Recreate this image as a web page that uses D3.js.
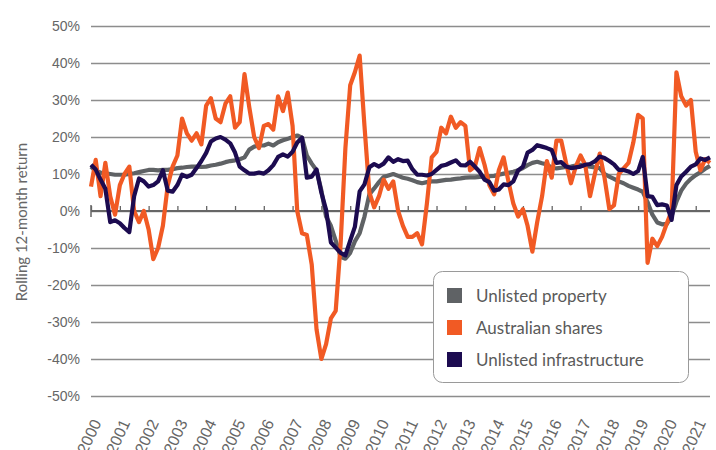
<!DOCTYPE html>
<html>
<head>
<meta charset="utf-8">
<script src="https://cdnjs.cloudflare.com/ajax/libs/d3/7.8.5/d3.min.js"></script>
<style>
  body { margin: 0; background: #fff; }
  svg { font-family: Lato, "Open Sans", sans-serif; }
</style>
</head>
<body>
<script>
//rolling 12-month returns, one value every two months from Jan 2000
var seriesNames = ["Unlisted property", "Australian shares", "Unlisted infrastructure"];
var seriesColors = ["#5f6265", "#f15a24", "#1c0b50"];

var property = [12, 10.8, 10.4, 10.2, 10, 9.8, 9.8, 9.8, 10, 10.2, 10.5, 10.8,
  11.1, 11.1, 11, 11.1, 11.1, 11.3, 11.6, 11.7, 11.9, 12, 12, 11.9,
  12, 12.3, 12.5, 12.8, 13.2, 13.5, 13.7, 14, 14.5, 16.6, 17.4, 17.7,
  17.7, 18.2, 17.7, 18.6, 19.1, 19.5, 20, 20.4, 19.8, 15, 12.8, 11,
  5.6, -1.5, -4, -8, -12.4, -12.9, -11.3, -8.2, -6, -1.5, 4.5, 6.1,
  7.8, 9.2, 9.6, 10, 9.5, 9, 8.7, 8.3, 7.8, 7.5, 7.8, 8,
  8, 8.2, 8.4, 8.5, 8.7, 8.8, 9, 9.1, 9.1, 9.2, 9.3, 9.4,
  9.5, 9.8, 10.1, 10.3, 10.6, 11, 11.6, 12.4, 13, 13.3, 12.9, 12.6,
  11.7, 11.5, 11.7, 11.9, 12, 12.3, 12.5, 12.2, 12, 11.8, 11.6, 10,
  9.3, 8.7, 8, 7.5, 6.8, 6.3, 5.8, 5.2, 2.4, -1, -3.1, -3.6,
  -3.5, -1.4, 2.5, 5.5, 7.4, 8.7, 9.7, 10.5, 11.4, 12.2];

var shares = [6.6, 13.8, 4, 13, 4, -1, 7, 10, 12, 0, -3, 0,
  -5, -13, -10, -4, 7, 12, 15, 25, 21, 19, 21, 18,
  28.5, 30.5, 25, 24, 29, 31, 22.5, 24, 37, 28, 20, 17,
  23, 23.5, 22, 31, 27, 32, 23, 0, -6, -6.5, -14.5, -32,
  -40, -36, -29, -27, -9, 17, 34, 37.5, 42, 23, 5, 1,
  4, 8.5, 6, 8, 0, -4, -7, -7, -6, -9, 2, 14.5,
  16, 22.5, 21, 25.5, 22.5, 24, 23, 11, 12, 17, 12.5, 7,
  4.5, 11, 14.5, 8, 2, -1.5, 0.5, -4, -11, -3, 4, 13.5,
  9, 19, 19, 13, 7.5, 12, 15, 12.5, 4, 10, 15.5, 9,
  0.5, 1.5, 10, 11.5, 13, 18.5, 26, 25, -14, -7.5, -9.5, -7,
  -3.3, 0, 37.5, 31, 28.5, 30, 16, 11, 14, 13];

var infrastructure = [12.5, 11.2, 8.5, 6, -3, -2.5, -3.3, -4.6, -5.7, 4, 8.8, 8,
  6.6, 7, 8, 11, 5.5, 5.2, 7, 9.8, 9.2, 9.8, 11.6, 13.5,
  15.7, 18.8, 19.6, 20, 19.3, 18.3, 15.8, 12, 11, 10.1, 10.1, 10.4,
  10.1, 11, 12.4, 14.6, 15.3, 14.7, 16, 18.5, 19.8, 9, 9.3, 11.2,
  5, 0.3, -8.5, -9.9, -11.3, -12, -8, -4.3, 5.3, 7.2, 11.8, 12.7,
  12, 12.8, 14.5, 13.3, 14, 13.5, 13.6, 11.3, 9.8, 9.8, 9.6, 10,
  11.1, 12.2, 12.5, 13.1, 13.7, 12.4, 12.3, 13.3, 12, 10.6, 8.5, 7.8,
  5.5, 5.8, 7.2, 7, 8, 11, 12, 15.8, 16.5, 17.8, 17.4, 17,
  16.5, 13, 13.2, 12, 11.6, 11.8, 12, 12.5, 12.7, 13.4, 14.7, 14.3,
  13.5, 12.6, 11.1, 11.1, 10.7, 10, 10.8, 14.6, 4, 3.8, 1.6, 1.8,
  1.5, -2.4, 7, 9.3, 10.6, 12, 12.6, 14.2, 13.8, 14.5];

var yearLabels = ["2000", "2001", "2002", "2003", "2004", "2005", "2006", "2007",
  "2008", "2009", "2010", "2011", "2012", "2013", "2014", "2015", "2016", "2017",
  "2018", "2019", "2020", "2021"];
var yTicks = [-50, -40, -30, -20, -10, 0, 10, 20, 30, 40, 50];

window.onload = drawChart;

function drawChart(){

  var width = 716, height = 450;
  var left = 91, right = 710, top = 26, bottom = 396;

  var svg = d3.select("body")
              .append("svg")
              .attr("width", width)
              .attr("height", height);

  //one date per reading, two months apart
  var dates = property.map(function(d, i){ return new Date(2000, i * 2, 1); });

  var x = d3.scaleTime()
    .domain([new Date(2000, 0, 1), new Date(2021, 6, 1)])
    .range([left, right]);

  var y = d3.scaleLinear()
    .domain([-50, 50])
    .range([bottom, top]);

  //gridlines and y labels
  var yAxis = svg.append("g")
    .attr("transform", "translate(" + left + ",0)")
    .call(d3.axisLeft(y)
      .tickValues(yTicks)
      .tickSize(-(right - left))
      .tickPadding(11)
      .tickFormat(function(d){ return d + "%"; }));
  yAxis.select(".domain").remove();
  yAxis.selectAll("line")
    .attr("stroke", "#8d8d8d")
    .attr("stroke-width", 1.3);
  yAxis.selectAll("text")
    .attr("fill", "#666")
    .style("font-size", "14px");

  //zero line with year ticks
  var yearDates = yearLabels.map(function(d){ return new Date(+d, 0, 1); });
  var zeroAxis = svg.append("g")
    .attr("transform", "translate(0," + y(0) + ")")
    .call(d3.axisTop(x)
      .tickValues(yearDates)
      .tickSize(5)
      .tickFormat(""));
  zeroAxis.select(".domain")
    .attr("d", "M" + left + ",0H" + right)
    .attr("stroke", "#666")
    .attr("stroke-width", 2);
  zeroAxis.selectAll("line")
    .attr("stroke", "#666")
    .attr("stroke-width", 1.3);
  zeroAxis.append("line")
    .attr("x1", left).attr("x2", left)
    .attr("y1", -6).attr("y2", 6)
    .attr("stroke", "#666")
    .attr("stroke-width", 1.5);

  //rotated year labels under the plot
  var xAxis = svg.append("g")
    .attr("transform", "translate(0,418)")
    .call(d3.axisBottom(x)
      .tickValues(yearDates)
      .tickSize(0)
      .tickFormat(d3.timeFormat("%Y")));
  xAxis.select(".domain").remove();
  xAxis.selectAll("text")
    .attr("fill", "#666")
    .style("font-size", "16px")
    .attr("text-anchor", "end")
    .attr("dy", "0.7em")
    .attr("transform", "rotate(-65)")
    .attr("y", 0)
    .attr("x", 0);

  //y title
  svg.append("text")
    .attr("transform", "translate(27,222) rotate(-90)")
    .attr("text-anchor", "middle")
    .attr("fill", "#666")
    .style("font-size", "15px")
    .text("Rolling 12-month return");

  //lines
  var line = d3.line()
    .x(function(d, i){ return x(dates[i]); })
    .y(function(d){ return y(d); });

  var allSeries = [property, shares, infrastructure];
  svg.selectAll(".series")
    .data(allSeries)
    .enter().append("path")
      .attr("class", "series")
      .attr("d", line)
      .attr("fill", "none")
      .attr("stroke", function(d, i){ return seriesColors[i]; })
      .attr("stroke-width", 4.2)
      .attr("stroke-linejoin", "round");

  //legend
  var legend = svg.append("g").attr("transform", "translate(433,271)");
  legend.append("rect")
    .attr("x", 0.5).attr("y", 0.5)
    .attr("width", 255).attr("height", 111)
    .attr("rx", 9)
    .attr("fill", "#fff")
    .attr("stroke", "#9a9a9a")
    .attr("stroke-width", 1);

  var items = legend.selectAll(".item")
    .data(seriesNames)
    .enter().append("g")
      .attr("class", "item")
      .attr("transform", function(d, i){ return "translate(14," + (17 + i * 32) + ")"; });
  items.append("rect")
    .attr("width", 15).attr("height", 15)
    .attr("fill", function(d, i){ return seriesColors[i]; });
  items.append("text")
    .attr("x", 29).attr("y", 8)
    .attr("dy", "0.36em")
    .attr("fill", "#5a5a5a")
    .style("font-size", "17px")
    .text(function(d){ return d; });
}
</script>
</body>
</html>
